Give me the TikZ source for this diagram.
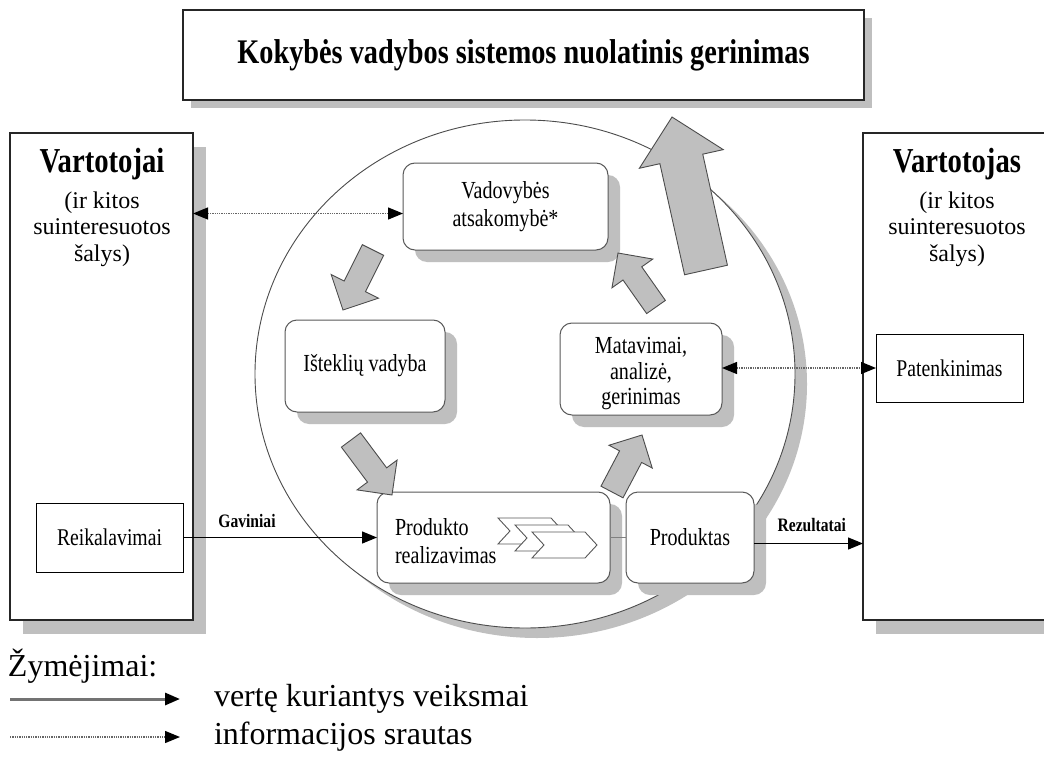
\documentclass[tikz,border=0pt]{standalone}
\usepackage{fontspec}
\setmainfont{Liberation Serif}
\newfontfamily\narrowfont[FakeStretch=0.82]{Liberation Serif}
\usetikzlibrary{arrows.meta,shadows,shapes.arrows,shapes.geometric,calc}

% block arrow from tail #1 to tip #2; #3 = half shaft width, #4 = head extension
\newcommand{\blockarrow}[4]{%
  \path let \p1=(#1), \p2=(#2),
            \n1={atan2(\y2-\y1,\x2-\x1)},
            \n2={veclen(\x2-\x1,\y2-\y1)} in
    node[blockarr, rotate=\n1, minimum height=\n2, inner ysep=#3,
         single arrow head extend=#4, anchor=tail] at (\p1) {};}

\begin{document}
\begin{tikzpicture}[x=1pt,y=-1pt,
  every node/.style={inner sep=0pt, outer sep=0pt},
  shade12/.style={drop shadow={shadow xshift=12pt,shadow yshift=-12pt,fill=black!25,opacity=1}},
  shade8/.style={drop shadow={shadow xshift=8pt,shadow yshift=-8pt,fill=black!25,opacity=1}},
  shade13/.style={drop shadow={shadow xshift=13pt,shadow yshift=-14pt,fill=black!25,opacity=1}},
  sqbox/.style={draw=black!85, line width=1.2pt, fill=white},
  plainbox/.style={draw=black, line width=1pt, fill=white, font=\narrowfont\fontsize{24}{28}\selectfont},
  rbox/.style={draw=black!65, line width=1pt, fill=white, rounded corners=12pt,
               align=center, font=\narrowfont\fontsize{24.5}{26}\selectfont, shade12},
  head/.style={font=\narrowfont\bfseries\fontsize{35}{38}\selectfont},
  sub/.style={align=center, font=\fontsize{24}{26.5}\selectfont},
  tip/.style={-{Triangle[length=15pt,width=12pt,color=black]}},
  flow/.style={draw=black, line width=1.3pt, tip},
  info/.style={draw=black!60, line width=1.3pt, densely dotted,
               {Triangle[length=15pt,width=12pt,color=black]}-{Triangle[length=15pt,width=12pt,color=black]}},
  blockarr/.style={single arrow, draw=black!70, line width=0.9pt, fill=black!25,
                   inner xsep=0pt, single arrow tip angle=90, minimum width=0pt},
  chev/.style={draw=black!65, line width=0.9pt, fill=white},
  lbl/.style={font=\narrowfont\bfseries\fontsize{19}{21}\selectfont},
  legend/.style={font=\fontsize{32}{34}\selectfont, anchor=west},
]
\useasboundingbox (0,0) rectangle (1044,760);

% title
\node[sqbox, shade8, minimum width=681pt, minimum height=90pt,
      font=\narrowfont\bfseries\fontsize{34.5}{38}\selectfont] (title) at (523.5,55)
  {Kokybės vadybos sistemos nuolatinis gerinimas};

% customers on both sides
\node[sqbox, shade13, minimum width=183pt, minimum height=487pt] (left) at (101.5,376.5) {};
\node[sqbox, shade13, minimum width=189pt, minimum height=487pt] (right) at (957.5,376.5) {};
\node[head] (lhead) at (102,164) {Vartotojai};
\node[sub]  (lsub)  at (102,229) {(ir kitos\\suinteresuotos\\šalys)};
\node[head] (rhead) at (957,164) {Vartotojas};
\node[sub]  (rsub)  at (957,229) {(ir kitos\\suinteresuotos\\šalys)};
\node[plainbox, minimum width=147pt, minimum height=69pt] (req) at (109.5,537.5) {Reikalavimai};
\node[plainbox, minimum width=147pt, minimum height=68pt] (sat) at (949.5,368) {Patenkinimas};

% process cycle
\node[ellipse, draw=black!70, line width=0.9pt, fill=white,
      minimum width=540pt, minimum height=508pt,
      drop shadow={shadow xshift=12pt,shadow yshift=-10pt,fill=black!25,opacity=1}]
  (cyc) at (525,374) {};

\node[rbox, minimum width=205pt, minimum height=87pt, font=\narrowfont\fontsize{24.5}{28}\selectfont]
  (mgmt) at (505.5,206.5) {Vadovybės\\atsakomybė*};
\node[rbox, minimum width=160pt, minimum height=92pt] (res)  at (365,366) {Išteklių vadyba};
\node[rbox, minimum width=162pt, minimum height=92pt] (meas) at (641,369) {};
\node[align=center, font=\narrowfont\fontsize{24.5}{25.5}\selectfont] (meastxt) at (641,374)
  {Matavimai,\\analizė,\\gerinimas};
\node[rbox, minimum width=233pt, minimum height=91pt] (real) at (493.5,537.5) {};
\node[rbox, minimum width=128pt, minimum height=91pt] (prod) at (690,537.5) {Produktas};
\node[align=left, anchor=west, font=\narrowfont\fontsize{24.5}{28}\selectfont] (realtxt) at (395,541)
  {Produkto\\realizavimas};

% process chevrons
\foreach \d in {0,1,2}
  \draw[chev] (498+17*\d,518+7*\d) -- ++(53,0) -- ++(12,13) -- ++(-12,13)
              -- ++(-53,0) -- ++(12,-13) -- cycle;

% block arrows of the cycle
\coordinate (a1t) at (373,250); \coordinate (a1h) at (343,310);
\coordinate (a2t) at (351,440); \coordinate (a2h) at (392,495);
\coordinate (a3t) at (612,492); \coordinate (a3h) at (642,435);
\coordinate (a4t) at (656,307); \coordinate (a4h) at (618,253);
\coordinate (a5t) at (706,270); \coordinate (a5h) at (672,117);
\blockarrow{a1t}{a1h}{11.5pt}{14.5pt}
\blockarrow{a2t}{a2h}{11.5pt}{13pt}
\blockarrow{a3t}{a3h}{12pt}{12pt}
\blockarrow{a4t}{a4h}{11pt}{13.5pt}
\blockarrow{a5t}{a5h}{21.5pt}{21pt}

% connectors
\draw[black!50, line width=0.8pt] (real.east) -- (prod.west);
\draw[flow] (req.east) -- node[lbl, pos=0.33, above=10pt] {Gaviniai} (req.east -| real.west);
\draw[flow] ([yshift=-6pt]prod.east) -- node[lbl, pos=0.53, above=12pt] {Rezultatai}
            ([yshift=-6pt]prod.east -| right.west);
\draw[info] ([yshift=-7pt]mgmt.west -| left.east) -- ([yshift=-7pt]mgmt.west);
\draw[info] (sat.west -| meas.east) -- (sat.west);

% legend
\node[legend] (leg) at (8,666) {Žymėjimai:};
\coordinate (l1a) at (10,699); \coordinate (l1b) at (180,699);
\coordinate (l2a) at (10,737); \coordinate (l2b) at (180,737);
\draw[draw=black!55, line width=3pt, tip] (l1a) -- (l1b);
\draw[draw=black!60, line width=1.3pt, densely dotted, tip] (l2a) -- (l2b);
\node[legend] (leg1) at (214,699) {vertę kuriantys veiksmai};
\node[legend] (leg2) at (214,737) {informacijos srautas};
\end{tikzpicture}
\end{document}
